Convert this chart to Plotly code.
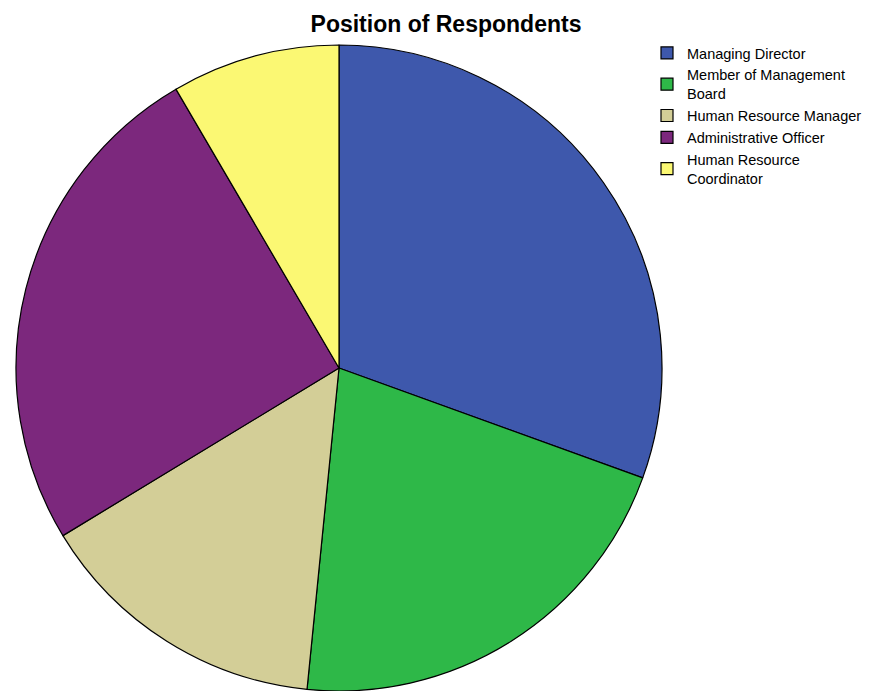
import plotly.graph_objects as go

# Respondent counts by position
positions = [
    "Managing Director",
    "Member of Management<br>Board",
    "Human Resource Manager",
    "Administrative Officer",
    "Human Resource<br>Coordinator",
]
counts = [29, 20, 14, 24, 8]
slice_colors = ["#3E58AC", "#2EB848", "#D3CE97", "#7C287D", "#FBF873"]

W, H = 870, 691
cx, cy, r = 339, 368, 323  # pie centre / radius in pixels

fig = go.Figure(
    go.Pie(
        labels=positions,
        values=counts,
        sort=False,
        direction="clockwise",
        rotation=0,
        textinfo="none",
        hoverinfo="label+value+percent",
        marker=dict(colors=slice_colors, line=dict(color="#000000", width=1.2)),
        domain=dict(
            x=[(cx - r) / W, (cx + r) / W],
            y=[1 - (cy + r) / H, 1 - (cy - r) / H],
        ),
    )
)

fig.update_layout(
    width=W,
    height=H,
    margin=dict(l=0, r=0, t=0, b=0),
    paper_bgcolor="#FFFFFF",
    plot_bgcolor="#FFFFFF",
    font=dict(family="Liberation Sans, Arial, sans-serif", color="#000000"),
    title=dict(
        text="<b>Position of Respondents</b>",
        x=446 / W,
        xanchor="center",
        xref="paper",
        y=1 - 24 / H,
        yanchor="middle",
        yref="container",
        font=dict(size=23, color="#000000"),
    ),
    legend=dict(
        x=647 / W,
        xanchor="left",
        y=1 - 37 / H,
        yanchor="top",
        font=dict(size=14.5, color="#000000"),
        bgcolor="rgba(0,0,0,0)",
        tracegroupgap=0,
    ),
    showlegend=True,
)

fig.write_html("out.html")
